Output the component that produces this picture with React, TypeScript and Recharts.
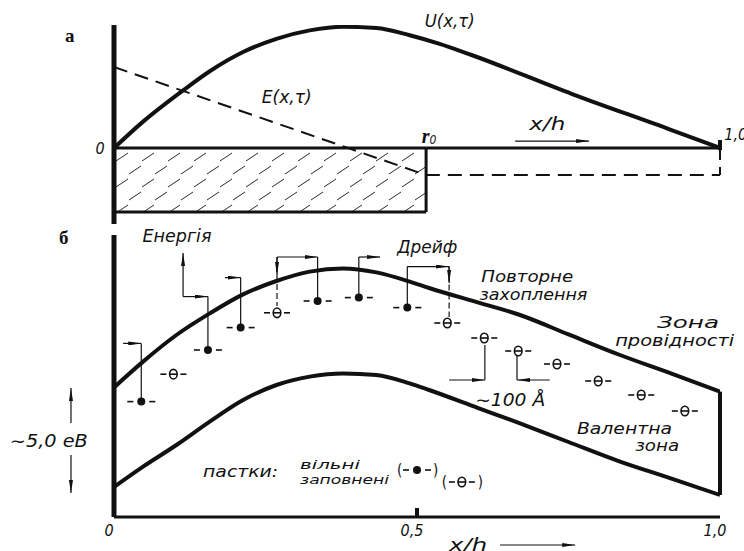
import React from 'react';
import {
  ComposedChart,
  Line,
  Scatter,
  XAxis,
  YAxis,
  ReferenceLine,
  ReferenceArea,
  ReferenceDot,
} from 'recharts';

// panel а: potential U(x,τ) and field E(x,τ), x/h from 0 to 1
const uX = [0, 0.048, 0.114, 0.158, 0.213, 0.268, 0.323, 0.378, 0.433, 0.488, 0.536, 0.59, 0.756, 0.92, 1.0];
const uVal = [0, 0.22, 0.48, 0.64, 0.8, 0.91, 0.98, 1.01, 1.0, 0.94, 0.87, 0.775, 0.45, 0.15, 0];
const eX = [0, 0.515, 1.0];
const eVal = [0.675, -0.225, -0.225];
const r0 = 0.515;
const chargeDepth = -0.533;

// panel б: band edges in eV
const bandX = [0, 0.048, 0.103, 0.158, 0.213, 0.268, 0.323, 0.378, 0.433, 0.488, 0.52, 0.6, 0.67, 0.75, 0.835, 0.92, 1.0];
const cbVal = [6.48, 7.77, 9.1, 10.18, 11.13, 11.8, 12.27, 12.43, 12.23, 11.77, 11.45, 10.73, 10.1, 9.13, 8.1, 7.17, 6.27];
const vbVal = [1.5, 2.52, 3.6, 4.77, 5.85, 6.6, 7.02, 7.18, 7.1, 6.68, 6.35, 5.46, 4.68, 3.75, 2.77, 1.92, 1.1];

// trapped electrons (filled) and free ones (empty)
const filledX = [0.045, 0.155, 0.209, 0.336, 0.404, 0.484];
const filledE = [5.77, 8.35, 9.47, 10.8, 10.97, 10.47];
const freeX = [0.098, 0.269, 0.55, 0.611, 0.667, 0.731, 0.799, 0.87, 0.942];
const freeE = [7.14, 10.21, 9.7, 8.95, 8.3, 7.65, 6.8, 6.1, 5.3];

const bottomTicks = [0, 0.5, 1.0];

const uData = uX.map((x, i) => ({ x, y: uVal[i] }));
const eData = eX.map((x, i) => ({ x, y: eVal[i] }));
const cbData = bandX.map((x, i) => ({ x, e: cbVal[i] }));
const vbData = bandX.map((x, i) => ({ x, e: vbVal[i] }));
const filledData = filledX.map((x, i) => ({ x, e: filledE[i] }));
const freeData = freeX.map((x, i) => ({ x, e: freeE[i] }));

const INK = '#111';
const FONT = "'DejaVu Sans Condensed', 'DejaVu Sans', sans-serif";

type Seg = [number, number, number, number, boolean?, boolean?]; // x1,y1,x2,y2,arrow,dashed

const segsA: Seg[] = [[0.662, 0.058, 0.784, 0.058, true]];

const segsB: Seg[] = [
  [0.015, 8.68, 0.045, 8.68, true],
  [0.045, 8.68, 0.045, 5.77],
  [0.114, 11.02, 0.114, 13.2, true],
  [0.114, 11.02, 0.155, 11.02, true],
  [0.155, 11.02, 0.155, 8.35],
  [0.183, 11.97, 0.209, 11.97, true],
  [0.209, 11.97, 0.209, 9.47],
  [0.269, 13.0, 0.336, 13.0, true],
  [0.336, 13.0, 0.336, 10.8],
  [0.269, 13.0, 0.269, 10.55, false, true],
  [0.269, 13.0, 0.269, 12.1, true],
  [0.404, 13.0, 0.439, 13.0, true],
  [0.404, 13.0, 0.404, 10.97],
  [0.484, 12.52, 0.553, 12.52, true],
  [0.484, 12.52, 0.484, 10.47],
  [0.553, 12.52, 0.553, 10.0, false, true],
  [0.553, 12.52, 0.553, 11.7, true],
  [0.612, 8.6, 0.612, 6.85],
  [0.553, 6.85, 0.612, 6.85, true],
  [0.665, 8.05, 0.665, 6.85],
  [0.719, 6.85, 0.665, 6.85, true],
  [-0.071, 4.7, -0.071, 6.45, true],
  [-0.071, 3.1, -0.071, 1.2, true],
  [0.637, -1.4, 0.761, -1.4, true],
];

type Note = { x: number; y: number; t: string; w?: number; a?: 'start' | 'middle' | 'end'; s?: number };

const notesA: Note[] = [
  { x: -0.023, y: 0, t: '0', s: 16 },
  { x: 0.554, y: 1.06, t: 'U(x,τ)', w: 50, s: 17 },
  { x: 0.285, y: 0.425, t: 'E(x,τ)', w: 50, s: 17 },
  { x: 0.715, y: 0.2, t: 'x/h', w: 36, s: 17 },
  { x: 1.007, y: 0.11, t: '1,0', a: 'start', s: 16 },
];

const notesB: Note[] = [
  { x: 0.104, y: 14.05, t: 'Енергія', w: 69, s: 17 },
  { x: 0.517, y: 13.5, t: 'Дрейф', w: 60, s: 17 },
  { x: 0.606, y: 12.05, t: 'Повторне', w: 92, a: 'start', s: 16 },
  { x: 0.603, y: 11.15, t: 'захоплення', w: 108, a: 'start', s: 16 },
  { x: 0.896, y: 9.7, t: 'Зона', w: 62, a: 'start', s: 15 },
  { x: 0.827, y: 8.8, t: 'провідності', w: 119, a: 'start', s: 15 },
  { x: 0.764, y: 4.45, t: 'Валентна', w: 95, a: 'start', s: 16 },
  { x: 0.86, y: 3.6, t: 'зона', w: 44, a: 'start', s: 16 },
  { x: 0.147, y: 2.25, t: 'пастки:', w: 75, a: 'start', s: 15 },
  { x: 0.307, y: 2.62, t: 'вільні', w: 60, a: 'start', s: 13 },
  { x: 0.307, y: 1.9, t: 'заповнені', w: 89, a: 'start', s: 13 },
  { x: 0.596, y: 5.85, t: '∼100 Å', w: 70, a: 'start', s: 17 },
  { x: -0.172, y: 3.8, t: '∼5,0 eB', w: 78, a: 'start', s: 17 },
  { x: 0.553, y: -1.4, t: 'x/h', w: 38, a: 'start', s: 17 },
];

const textShape = (n: Note) => (p: any) => (
  <text
    x={p.cx}
    y={p.cy}
    textAnchor={n.a ?? 'middle'}
    dominantBaseline="central"
    fontFamily={FONT}
    fontStyle="italic"
    fontSize={n.s ?? 17}
    fill={INK}
    textLength={n.w}
    lengthAdjust={n.w ? 'spacingAndGlyphs' : undefined}
  >
    {n.t}
  </text>
);

const FilledMark = (p: any) => (
  <g stroke={INK} strokeWidth={1.6}>
    <line x1={p.cx - 14} y1={p.cy} x2={p.cx - 8} y2={p.cy} />
    <circle cx={p.cx} cy={p.cy} r={4} fill={INK} stroke="none" />
    <line x1={p.cx + 8} y1={p.cy} x2={p.cx + 14} y2={p.cy} />
  </g>
);

const FreeMark = (p: any) => (
  <g stroke={INK} strokeWidth={1.6} fill="none">
    <line x1={p.cx - 13} y1={p.cy} x2={p.cx - 7} y2={p.cy} />
    <ellipse cx={p.cx} cy={p.cy} rx={3.8} ry={4.8} />
    <line x1={p.cx - 3.8} y1={p.cy} x2={p.cx + 3.8} y2={p.cy} />
    <line x1={p.cx + 7} y1={p.cy} x2={p.cx + 13} y2={p.cy} />
  </g>
);

const legendShape = (kind: 'filled' | 'free') => (p: any) => (
  <g>
    <text x={p.cx} y={p.cy} dominantBaseline="central" fontFamily={FONT} fontSize={15} fill={INK}>(</text>
    {kind === 'filled' ? <FilledMark cx={p.cx + 20} cy={p.cy} /> : <FreeMark cx={p.cx + 20} cy={p.cy} />}
    <text x={p.cx + 36} y={p.cy} dominantBaseline="central" fontFamily={FONT} fontSize={15} fill={INK}>)</text>
  </g>
);

const arrowDefs = (id: string) => (
  <marker
    id={id}
    viewBox="0 0 13 4"
    refX={13}
    refY={2}
    markerWidth={13}
    markerHeight={4}
    markerUnits="userSpaceOnUse"
    orient="auto"
  >
    <path d="M0,0 L13,2 L0,4 z" fill={INK} />
  </marker>
);

const drawSegs = (segs: Seg[], marker: string, prefix: string) =>
  segs.map(([x1, y1, x2, y2, arrow, dashed], i) => (
    <ReferenceLine
      key={`${prefix}${i}`}
      segment={[{ x: x1, y: y1 }, { x: x2, y: y2 }]}
      stroke={INK}
      strokeWidth={1.2}
      strokeDasharray={dashed ? '6 3' : undefined}
      markerEnd={arrow ? `url(#${marker})` : undefined}
      ifOverflow="visible"
    />
  ));

function PanelA() {
  return (
    <ComposedChart width={744} height={230} margin={{ top: 25, right: 24, bottom: 6, left: 114 }}>
      <defs>
        {arrowDefs('arrA')}
        <pattern id="hatchA" width={26} height={26} patternUnits="userSpaceOnUse" x={114} y={150}>
          <line x1={2} y1={11} x2={14} y2={3} stroke={INK} strokeWidth={0.9} />
          <line x1={15} y1={24} x2={27} y2={16} stroke={INK} strokeWidth={0.9} />
          <line x1={-11} y1={24} x2={1} y2={16} stroke={INK} strokeWidth={0.9} />
        </pattern>
      </defs>
      <XAxis type="number" dataKey="x" domain={[0, 1]} allowDataOverflow hide />
      <YAxis type="number" domain={[-0.633, 1.025]} allowDataOverflow hide />
      <ReferenceArea x1={0} x2={r0} y1={chargeDepth} y2={0} fill="url(#hatchA)" fillOpacity={1} stroke="none" ifOverflow="visible" />
      <ReferenceLine segment={[{ x: 0, y: chargeDepth }, { x: r0, y: chargeDepth }]} stroke={INK} strokeWidth={3} ifOverflow="visible" />
      <ReferenceLine segment={[{ x: r0, y: 0 }, { x: r0, y: chargeDepth }]} stroke={INK} strokeWidth={3} ifOverflow="visible" />
      <ReferenceLine segment={[{ x: 0, y: 0 }, { x: 1, y: 0 }]} stroke={INK} strokeWidth={3} ifOverflow="visible" />
      <ReferenceLine segment={[{ x: 1, y: 0 }, { x: 1, y: eVal[2] }]} stroke={INK} strokeWidth={2} strokeDasharray="12 7" ifOverflow="visible" />
      <ReferenceLine segment={[{ x: 1, y: 0.067 }, { x: 1, y: -0.017 }]} stroke={INK} strokeWidth={4} ifOverflow="visible" />
      <ReferenceLine segment={[{ x: 0, y: 1.025 }, { x: 0, y: -0.633 }]} stroke={INK} strokeWidth={5} ifOverflow="visible" />
      <Line data={eData} dataKey="y" type="linear" stroke={INK} strokeWidth={2} strokeDasharray="14 8" dot={false} activeDot={false} isAnimationActive={false} />
      <Line data={uData} dataKey="y" type="monotone" stroke={INK} strokeWidth={4} dot={false} activeDot={false} isAnimationActive={false} />
      {drawSegs(segsA, 'arrA', 'a')}
      {notesA.map((n, i) => (
        <ReferenceDot key={`na${i}`} x={n.x} y={n.y} r={0} ifOverflow="visible" shape={textShape(n)} />
      ))}
      <ReferenceDot
        x={0.52}
        y={0.1}
        r={0}
        ifOverflow="visible"
        shape={(p: any) => (
          <text x={p.cx} y={p.cy} textAnchor="middle" dominantBaseline="central" fill={INK}>
            <tspan fontFamily="'Liberation Serif', serif" fontWeight="bold" fontStyle="italic" fontSize={20}>r</tspan>
            <tspan fontFamily={FONT} fontStyle="italic" fontSize={12} dy={4}>0</tspan>
          </text>
        )}
      />
      <ReferenceDot
        x={-0.073}
        y={0.94}
        r={0}
        ifOverflow="visible"
        shape={(p: any) => (
          <text x={p.cx} y={p.cy} textAnchor="middle" dominantBaseline="central" fontFamily="'Liberation Serif', serif" fontWeight="bold" fontSize={19} fill={INK}>
            а
          </text>
        )}
      />
    </ComposedChart>
  );
}

function PanelB() {
  return (
    <ComposedChart width={744} height={321} margin={{ top: 5, right: 24, bottom: 4, left: 114 }}>
      <defs>{arrowDefs('arrB')}</defs>
      <XAxis
        type="number"
        dataKey="x"
        domain={[0, 1]}
        allowDataOverflow
        ticks={bottomTicks}
        tickFormatter={(v: number) => (v === 0 ? '0' : v.toFixed(1).replace('.', ','))}
        axisLine={{ stroke: INK, strokeWidth: 3 }}
        tickLine={false}
        tick={{ fill: INK, fontSize: 16, fontStyle: 'italic', fontFamily: FONT, dx: -5 }}
        height={30}
      />
      <YAxis type="number" domain={[0, 14.1]} allowDataOverflow hide />
      <ReferenceLine segment={[{ x: 0, y: 0 }, { x: 0, y: 14.1 }]} stroke={INK} strokeWidth={5} ifOverflow="visible" />
      <ReferenceLine segment={[{ x: 1, y: cbVal[cbVal.length - 1] }, { x: 1, y: vbVal[vbVal.length - 1] }]} stroke={INK} strokeWidth={4} ifOverflow="visible" />
      <ReferenceLine segment={[{ x: 0.5, y: 0 }, { x: 0.5, y: 0.45 }]} stroke={INK} strokeWidth={4} ifOverflow="visible" />
      <Line data={cbData} dataKey="e" type="monotone" stroke={INK} strokeWidth={4} dot={false} activeDot={false} isAnimationActive={false} />
      <Line data={vbData} dataKey="e" type="monotone" stroke={INK} strokeWidth={4} dot={false} activeDot={false} isAnimationActive={false} />
      {drawSegs(segsB, 'arrB', 'b')}
      <Scatter data={filledData} dataKey="e" shape={FilledMark} isAnimationActive={false} />
      <Scatter data={freeData} dataKey="e" shape={FreeMark} isAnimationActive={false} />
      {notesB.map((n, i) => (
        <ReferenceDot key={`nb${i}`} x={n.x} y={n.y} r={0} ifOverflow="visible" shape={textShape(n)} />
      ))}
      <ReferenceDot x={0.467} y={2.35} r={0} ifOverflow="visible" shape={legendShape('filled')} />
      <ReferenceDot x={0.541} y={1.75} r={0} ifOverflow="visible" shape={legendShape('free')} />
      <ReferenceDot
        x={-0.083}
        y={14.0}
        r={0}
        ifOverflow="visible"
        shape={(p: any) => (
          <text x={p.cx} y={p.cy} textAnchor="middle" dominantBaseline="central" fontFamily="'Liberation Serif', serif" fontWeight="bold" fontSize={19} fill={INK}>
            б
          </text>
        )}
      />
    </ComposedChart>
  );
}

export default function App() {
  return (
    <div style={{ width: 744, height: 551, background: '#fff', overflow: 'hidden' }}>
      <style>{'body{margin:0} .recharts-surface{overflow:visible}'}</style>
      <PanelA />
      <PanelB />
    </div>
  );
}
